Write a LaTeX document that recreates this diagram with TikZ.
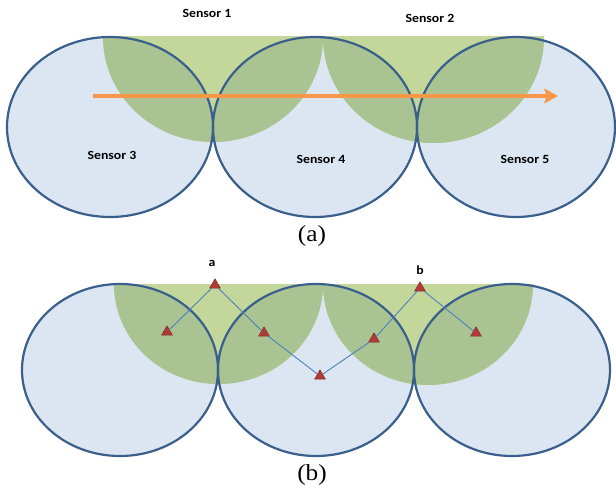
\documentclass[tikz,border=0pt]{standalone}
\usepackage{graphicx}
\usepackage{fontspec}
\setmainfont{Liberation Serif}
\newfontfamily\lblfont{Carlito}
\usetikzlibrary{arrows.meta,shapes.geometric}
\definecolor{cfill}{HTML}{DCE6F2}
\definecolor{cline}{HTML}{3B5F8C}
\definecolor{glight}{HTML}{C4D79B}
\definecolor{gdark}{HTML}{A9C392}
\definecolor{orng}{HTML}{F79646}
\definecolor{tred}{HTML}{B03A37}
\definecolor{lnk}{HTML}{4F81BD}
\tikzset{
  lbl/.style={font=\lblfont\bfseries\fontsize{12.5}{14}\selectfont, inner sep=0pt},
  captext/.style={font=\fontsize{23}{26}\selectfont, inner sep=0pt},
  tri/.style={regular polygon, regular polygon sides=3, minimum size=12.5pt, inner sep=0pt, fill=tred, draw=tred!70!black, line width=0.4pt},
  link/.style={draw=lnk, line width=0.9pt},
  ring/.style={draw=cline, line width=2.2pt},
}
\begin{document}
\begin{tikzpicture}[x=1pt,y=-1pt]
\useasboundingbox (0,0) rectangle (616,489);
% ---------------- panel (a) ----------------
\foreach \cx/\rx in {110/103,315/102,516/99}{
  \fill[cfill] (\cx,127) ellipse [x radius=\rx, y radius=90];
}
\foreach \gx/\grx/\gry in {213/110/105,433.5/110.5/106}{
  \begin{scope}
    \clip (\gx-\grx,37) rectangle (\gx+\grx,37+\gry+2);
    \fill[glight] (\gx,37) ellipse [x radius=\grx, y radius=\gry];
    \foreach \cx/\rx in {110/103,315/102,516/99}{
      \begin{scope}
        \clip (\cx,127) ellipse [x radius=\rx, y radius=90];
        \fill[gdark] (\gx,37) ellipse [x radius=\grx, y radius=\gry];
      \end{scope}
    }
  \end{scope}
}
\foreach \cx/\rx in {110/103,315/102,516/99}{
  \draw[ring] (\cx,127) ellipse [x radius=\rx, y radius=90];
}
\coordinate (arrS) at (93,96);
\coordinate (arrE) at (558,96);
\draw[orng, line width=4.5pt, -{Stealth[length=14pt,width=15pt,inset=3pt]}] (arrS) -- (arrE);
\node[lbl] (s1) at (207,13) {\scalebox{1.1}[1]{Sensor 1}};
\node[lbl] (s2) at (430,18) {\scalebox{1.1}[1]{Sensor 2}};
\node[lbl] (s3) at (112,155) {\scalebox{1.1}[1]{Sensor 3}};
\node[lbl] (s4) at (321,159) {\scalebox{1.1}[1]{Sensor 4}};
\node[lbl] (s5) at (525,159) {\scalebox{1.1}[1]{Sensor 5}};
\node[captext] (capa) at (312,236) {\scalebox{1.1}[1]{(a)}};
% ---------------- panel (b) ----------------
\foreach \cx in {120,316,512}{
  \fill[cfill] (\cx,370) ellipse [x radius=98, y radius=86];
}
\foreach \gx/\grx/\gry in {218.5/104.5/100,428/105/101}{
  \begin{scope}
    \clip (\gx-\grx,284) rectangle (\gx+\grx,284+\gry+2);
    \fill[glight] (\gx,284) ellipse [x radius=\grx, y radius=\gry];
    \foreach \cx in {120,316,512}{
      \begin{scope}
        \clip (\cx,370) ellipse [x radius=98, y radius=86];
        \fill[gdark] (\gx,284) ellipse [x radius=\grx, y radius=\gry];
      \end{scope}
    }
  \end{scope}
}
\foreach \cx in {120,316,512}{
  \draw[ring] (\cx,370) ellipse [x radius=98, y radius=86];
}
\node[tri] (ta) at (215,285) {};
\node[tri] (tl) at (167,332) {};
\node[tri] (tm1) at (264,333) {};
\node[tri] (tb) at (320,376) {};
\node[tri] (tm2) at (374,339) {};
\node[tri] (tbb) at (420,288) {};
\node[tri] (tr) at (476,333) {};
\draw[link] (tl) -- (ta);
\draw[link] (ta) -- (tm1);
\draw[link] (tm1) -- (tb);
\draw[link] (tb) -- (tm2);
\draw[link] (tm2) -- (tbb);
\draw[link] (tbb) -- (tr);
\node[lbl] (la) at (212,263) {\scalebox{1.1}[1]{a}};
\node[lbl] (lb) at (420,270) {\scalebox{1.1}[1]{b}};
\node[captext] (capb) at (312,475) {\scalebox{1.1}[1]{(b)}};
\end{tikzpicture}
\end{document}
